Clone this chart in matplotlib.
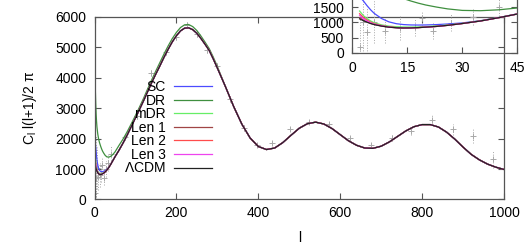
import numpy as np
import matplotlib
matplotlib.use("Agg")
import matplotlib.pyplot as plt

# ====== MULTIPOLE GRID ======
ell_low = [2, 3, 4, 5, 6, 8, 10, 12, 14, 16, 18, 20, 23, 26, 30, 35, 40, 45, 50]
ell_mid = [60, 70, 80, 90, 100, 110, 120, 130, 140, 150, 160, 170, 180, 190, 200,
           210, 220, 230, 240, 250, 260, 270, 280, 290, 300]
ell_high = list(range(320, 1001, 20))

# ====== MODEL SPECTRA (l(l+1)C_l/2pi) ======
lcdm_low = [1120, 1060, 1010, 965, 930, 880, 845, 825, 818, 820, 830, 845, 870, 905, 965, 1050, 1160, 1280, 1400]
sc_low = [1850, 1720, 1560, 1420, 1300, 1130, 1020, 960, 930, 918, 915, 918, 930, 950, 985, 1060, 1165, 1285, 1400]
dr_low = [3620, 3150, 2800, 2560, 2380, 2150, 1990, 1880, 1790, 1710, 1640, 1580, 1510, 1450, 1400, 1390, 1420, 1480, 1560]
mdr_low = [1380, 1230, 1130, 1050, 990, 920, 880, 860, 850, 848, 852, 862, 885, 915, 970, 1055, 1162, 1282, 1400]
len1_low = [1160, 1080, 1020, 970, 932, 880, 845, 825, 818, 820, 830, 845, 870, 905, 965, 1050, 1160, 1280, 1400]
len2_low = [1290, 1170, 1080, 1010, 960, 895, 855, 832, 822, 822, 830, 845, 870, 905, 965, 1050, 1160, 1280, 1400]
len3_low = [1240, 1130, 1050, 990, 945, 888, 850, 828, 820, 821, 830, 845, 870, 905, 965, 1050, 1160, 1280, 1400]

lcdm_mid = [1620, 1860, 2120, 2400, 2680, 2960, 3250, 3550, 3850, 4130, 4400, 4680, 4940, 5180, 5380,
            5540, 5630, 5640, 5580, 5460, 5290, 5100, 4900, 4620, 4320]
dr_mid = [1780, 1990, 2230, 2490, 2760, 3040, 3330, 3640, 3940, 4230, 4510, 4790, 5050, 5290, 5490,
          5650, 5740, 5750, 5680, 5550, 5370, 5170, 4960, 4680, 4370]

lcdm_high = [3700, 3050, 2470, 2020, 1740, 1640, 1690, 1870, 2110, 2340, 2490, 2540, 2480, 2330, 2130,
             1930, 1780, 1690, 1680, 1750, 1890, 2070, 2250, 2390, 2460, 2460, 2380, 2210, 1980, 1720,
             1480, 1300, 1160, 1060, 985]

labels = ["SC", "DR", "mDR", "Len 1", "Len 2", "Len 3", r"$\Lambda$CDM"]
colors = ["#4b4bff", "#3f8f3f", "#66ee66", "#a04545", "#ff4c4c", "#ee44ee", "#222222"]

# ====== BINNED DATA ======
data_l = [2, 3, 4, 6, 9, 13, 17, 19, 22, 27, 33, 40, 75, 105, 138, 175, 200, 225, 250, 274, 300,
          331, 365, 396, 434, 477, 525, 573, 624, 674, 726, 772, 823, 875, 925, 974]
data_v = [200, 1000, 700, 1030, 730, 810, 860, 1140, 720, 995, 1190, 1500, 2050, 2750, 4150, 4850,
          5350, 5740, 5450, 4920, 4400, 3300, 2350, 1800, 1860, 2320, 2550, 2480, 2020, 1780, 2020,
          2240, 2620, 2300, 2080, 1330]
data_err = [1000, 1100, 800, 700, 420, 400, 300, 250, 260, 270, 270, 300, 100, 100, 100, 100, 100,
            100, 100, 100, 100, 100, 90, 60, 60, 60, 70, 70, 70, 80, 90, 110, 140, 180, 240, 300]

ell = ell_low + ell_mid + ell_high
models = [
    sc_low + lcdm_mid + lcdm_high,
    dr_low + dr_mid + lcdm_high,
    mdr_low + lcdm_mid + lcdm_high,
    len1_low + lcdm_mid + lcdm_high,
    len2_low + lcdm_mid + lcdm_high,
    len3_low + lcdm_mid + lcdm_high,
    lcdm_low + lcdm_mid + lcdm_high,
]

plt.rcParams["font.family"] = ["Liberation Sans", "DejaVu Sans"]
plt.rcParams["font.size"] = 10
plt.rcParams["mathtext.fontset"] = "custom"
plt.rcParams["mathtext.rm"] = "Liberation Sans"
plt.rcParams["mathtext.it"] = "Liberation Sans"

fig = plt.figure(figsize=(5.25, 2.45), dpi=100)
ax = fig.add_axes([0.180, 0.186, 0.780, 0.745])
ins = fig.add_axes([0.671, 0.785, 0.3143, 0.2465])


def style(a):
    for s in a.spines.values():
        s.set_color("#555555")
        s.set_linewidth(0.9)
    a.tick_params(direction="in", top=True, right=True, length=4, width=0.8,
                  color="#555555", labelsize=10, pad=6)


def draw(a):
    eb = a.errorbar(data_l, data_v, yerr=data_err, fmt="+", color="#a8a8a8", ms=4,
                    mew=0.7, elinewidth=0.7, capsize=0, zorder=1)
    eb[2][0].set_linestyle(":")
    for m, lab, c in zip(models, labels, colors):
        a.plot(ell, m, color=c, lw=0.9, label=lab, zorder=2)


# ====== MAIN PANEL ======
draw(ax)
ax.set_xlim(0, 1000)
ax.set_ylim(0, 6000)
ax.set_xticks(range(0, 1001, 200))
ax.set_yticks(range(0, 6001, 1000))
style(ax)
ax.tick_params(axis="x", pad=5)
ax.set_xlabel("l", labelpad=8)
ax.set_ylabel(r"C$_\mathregular{l}$ l(l+1)/2 $\pi$")
ax.yaxis.set_label_coords(-0.135, 0.5)
ax.legend(loc="upper right", bbox_to_anchor=(219 / 525, 1 - 73 / 245),
          bbox_transform=fig.transFigure, frameon=False, markerfirst=False,
          handlelength=2.75, handletextpad=0.6, labelspacing=-0.03, borderpad=0,
          fontsize=10)

# ====== INSET ======
draw(ins)
ins.set_xlim(0, 45)
ins.set_ylim(0, 2000)
ins.set_xticks([0, 15, 30, 45])
ins.set_yticks([0, 500, 1000, 1500])
ins.patch.set_alpha(0)
style(ins)

plt.savefig("out.png", dpi=100)
plt.close()
